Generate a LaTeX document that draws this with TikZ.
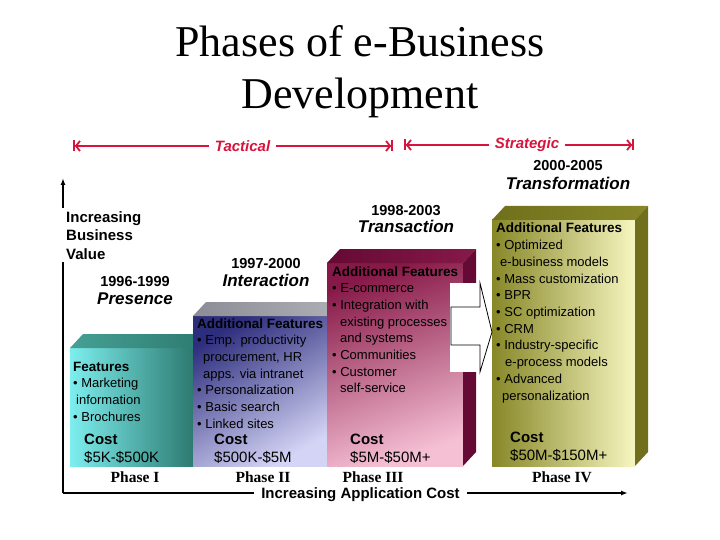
\documentclass[tikz,border=0pt]{standalone}
\usepackage{fontspec}
\setmainfont{Liberation Serif}
\setsansfont{Liberation Sans}
\usetikzlibrary{arrows.meta, positioning}
\definecolor{tacred}{RGB}{215,20,60}
\definecolor{cyanlt}{RGB}{125,238,238}
\definecolor{tealdk}{RGB}{45,122,112}
\definecolor{tealtop}{RGB}{70,160,148}
\definecolor{navy}{RGB}{45,45,125}
\definecolor{lavender}{RGB}{212,212,246}
\definecolor{greytop}{RGB}{140,140,150}
\definecolor{maroon}{RGB}{135,25,72}
\definecolor{pinklt}{RGB}{246,192,212}
\definecolor{maroondk}{RGB}{100,10,52}
\definecolor{olive}{RGB}{135,135,40}
\definecolor{yellowlt}{RGB}{246,246,192}
\definecolor{olivedk}{RGB}{112,112,28}
\tikzstyle{heading} = [font=\fontsize{44}{52}\selectfont, anchor=base, inner sep=0pt]
\tikzstyle{year} = [font=\sffamily\bfseries\fontsize{14.5}{17}\selectfont, anchor=base, inner sep=0pt]
\tikzstyle{stage} = [font=\sffamily\bfseries\itshape\fontsize{17}{20}\selectfont, anchor=base, inner sep=0pt]
\tikzstyle{head} = [font=\sffamily\bfseries\fontsize{13.5}{16}\selectfont, anchor=base west, inner sep=0pt]
\tikzstyle{item} = [font=\sffamily\fontsize{13}{16}\selectfont, anchor=base west, inner sep=0pt]
\tikzstyle{costhd} = [font=\sffamily\bfseries\fontsize{15}{18}\selectfont, anchor=base west, inner sep=0pt]
\tikzstyle{costval} = [font=\sffamily\fontsize{15}{18}\selectfont, anchor=base west, inner sep=0pt]
\tikzstyle{phaselbl} = [font=\bfseries\fontsize{15.5}{18}\selectfont, anchor=base, inner sep=0pt]
\tikzstyle{axisline} = [line width=1.6pt, -{Latex[length=7pt, width=5pt]}]
\tikzstyle{axislbl} = [font=\sffamily\bfseries\fontsize{15}{18.5}\selectfont, fill=white, align=left, inner xsep=6pt, inner ysep=3pt]
\tikzstyle{span} = [draw=tacred, line width=1.8pt, {Bar[width=11pt]Straight Barb[length=4pt, width=10pt]}-{Straight Barb[length=4pt, width=10pt]Bar[width=11pt]}]
\tikzstyle{spanlbl} = [font=\sffamily\bfseries\itshape\fontsize{15}{18}\selectfont, text=tacred, fill=white, inner xsep=6pt, inner ysep=1pt]
\tikzstyle{front1} = [left color=cyanlt, right color=tealdk]
\tikzstyle{front2} = [top color=navy, bottom color=lavender, shading angle=30]
\tikzstyle{front3} = [top color=maroon, bottom color=pinklt, shading angle=20]
\tikzstyle{front4} = [left color=olive, right color=yellowlt]
\tikzstyle{top1} = [left color=tealtop, right color=tealdk]
\tikzstyle{top2} = [left color=greytop, right color=greytop!70]
\tikzstyle{top3} = [left color=maroondk, right color=maroon]
\tikzstyle{top4} = [left color=olivedk, right color=olive]
\tikzstyle{side1} = [fill=tealdk]
\tikzstyle{side2} = [fill=greytop]
\tikzstyle{side3} = [fill=maroondk]
\tikzstyle{side4} = [fill=olivedk]
\tikzstyle{blockarrow} = [draw=black, fill=white, line width=0.8pt]

\begin{document}
\begin{tikzpicture}[x=1pt, y=-1pt]
    \useasboundingbox (0,0) rectangle (720,540);

    % Title.
    \node (title1) [heading] at (360,57) {Phases of e-Business};
    \node (title2) [heading] at ([yshift=-52pt]title1.base) {Development};

    % Tactical and strategic spans.
    \coordinate (tacL) at (73,146);
    \coordinate (tacR) at (393,146);
    \coordinate (strL) at (404,145);
    \coordinate (strR) at (634,145);
    \draw [span] (tacL) -- node (tactical) [spanlbl, pos=0.53] {Tactical} (tacR);
    \draw [span] (strL) -- node (strategic) [spanlbl, pos=0.535] {Strategic} (strR);

    % Axes.
    \coordinate (origin) at (63,493);
    \coordinate (ytop) at (63,178);
    \coordinate (xend) at (628,493);
    \draw [axisline] (origin) -- (ytop);
    \draw [axisline] (origin) -- (xend);
    \node (yaxlbl) [axislbl, anchor=north west] at (60,208) {Increasing\\Business\\Value};
    \node (xaxlbl) [axislbl, inner xsep=7pt, inner ysep=1pt] at (360.5,495) {Increasing Application Cost};

    % Boxes.
    \foreach\i/\xa/\xb/\yt in {1/70/193/348, 2/193/327/316, 3/327/463/263, 4/492/635/220} {
        \shade [front\i] (\xa,\yt) rectangle (\xb,466);
        \shade [top\i] (\xa,\yt) -- ++(13,-14) -- ({\xb+13},{\yt-14}) -- (\xb,\yt) -- cycle;
        \fill [side\i] (\xb,\yt) -- ++(13,-14) -- ({\xb+13},452) -- (\xb,466) -- cycle;
    }

    % Years and stages.
    \node (yr1) [year] at (135,286) {1996-1999};
    \node (yr2) [year] at (266,268) {1997-2000};
    \node (yr3) [year] at (406,215) {1998-2003};
    \node (yr4) [year] at (568,171) {2000-2005};
    \node (stage1) [stage] at ([yshift=-18pt]yr1.base) {Presence};
    \node (stage2) [stage] at ([yshift=-18pt]yr2.base) {Interaction};
    \node (stage3) [stage] at ([yshift=-18pt]yr3.base) {Transaction};
    \node (stage4) [stage] at ([yshift=-19pt]yr4.base) {Transformation};

    % Features.
    \node (feat1) [head] at (73,371) {Features};
    \foreach\t [count=\k] in {\textbullet~Marketing, \hspace*{3pt}information, \textbullet~Brochures} {
        \node (featI\k) [item] at ([yshift={-16.7*\k}]feat1.base west) {\t};
    }
    \node (feat2) [head] at (197,328) {Additional Features};
    \foreach\t [count=\k] in {\textbullet~Emp. productivity, {\hspace*{6pt}procurement, HR}, \hspace*{6pt}apps. via intranet,
        \textbullet~Personalization, \textbullet~Basic search, \textbullet~Linked sites} {
        \node (featII\k) [item] at ([yshift={-16.7*\k}]feat2.base west) {\t};
    }
    \node (feat3) [head] at (332,276) {Additional Features};
    \foreach\t [count=\k] in {\textbullet~E-commerce, \textbullet~Integration with, \hspace*{8pt}existing processes,
        \hspace*{8pt}and systems, \textbullet~Communities, \textbullet~Customer, \hspace*{8pt}self-service} {
        \node (featIII\k) [item] at ([yshift={-16.7*\k}]feat3.base west) {\t};
    }
    \node (feat4) [head] at (496,233) {Additional Features};
    \foreach\t [count=\k] in {\textbullet~Optimized, \hspace*{4pt}e-business models, \textbullet~Mass customization,
        \textbullet~BPR, \textbullet~SC optimization, \textbullet~CRM, \textbullet~Industry-specific,
        \hspace*{9pt}e-process models, \textbullet~Advanced, \hspace*{6pt}personalization} {
        \node (featIV\k) [item] at ([yshift={-16.7*\k}]feat4.base west) {\t};
    }

    % Costs.
    \foreach\i/\x/\y/\c in {1/84/444/\$5K-\$500K, 2/214/444/\$500K-\$5M, 3/350/444/\$5M-\$50M+, 4/510/442/\$50M-\$150M+} {
        \node (cost\i) [costhd] at (\x,\y) {Cost};
        \node (costval\i) [costval] at ([yshift=-18pt]cost\i.base west) {\c};
    }

    % Phases.
    \node (phase1) [phaselbl] at (135,482) {Phase I};
    \node (phase2) [phaselbl] at (263,482) {Phase II};
    \node (phase3) [phaselbl] at (373,482) {Phase III};
    \node (phase4) [phaselbl] at (562,482) {Phase IV};

    % Block arrow.
    \fill [white] (450,283) rectangle (480,372);
    \draw [blockarrow] (451,307) -- (480,307) -- (480,283) -- (492,332) -- (480,372) -- (480,345) -- (451,345) -- cycle;
\end{tikzpicture}
\end{document}
